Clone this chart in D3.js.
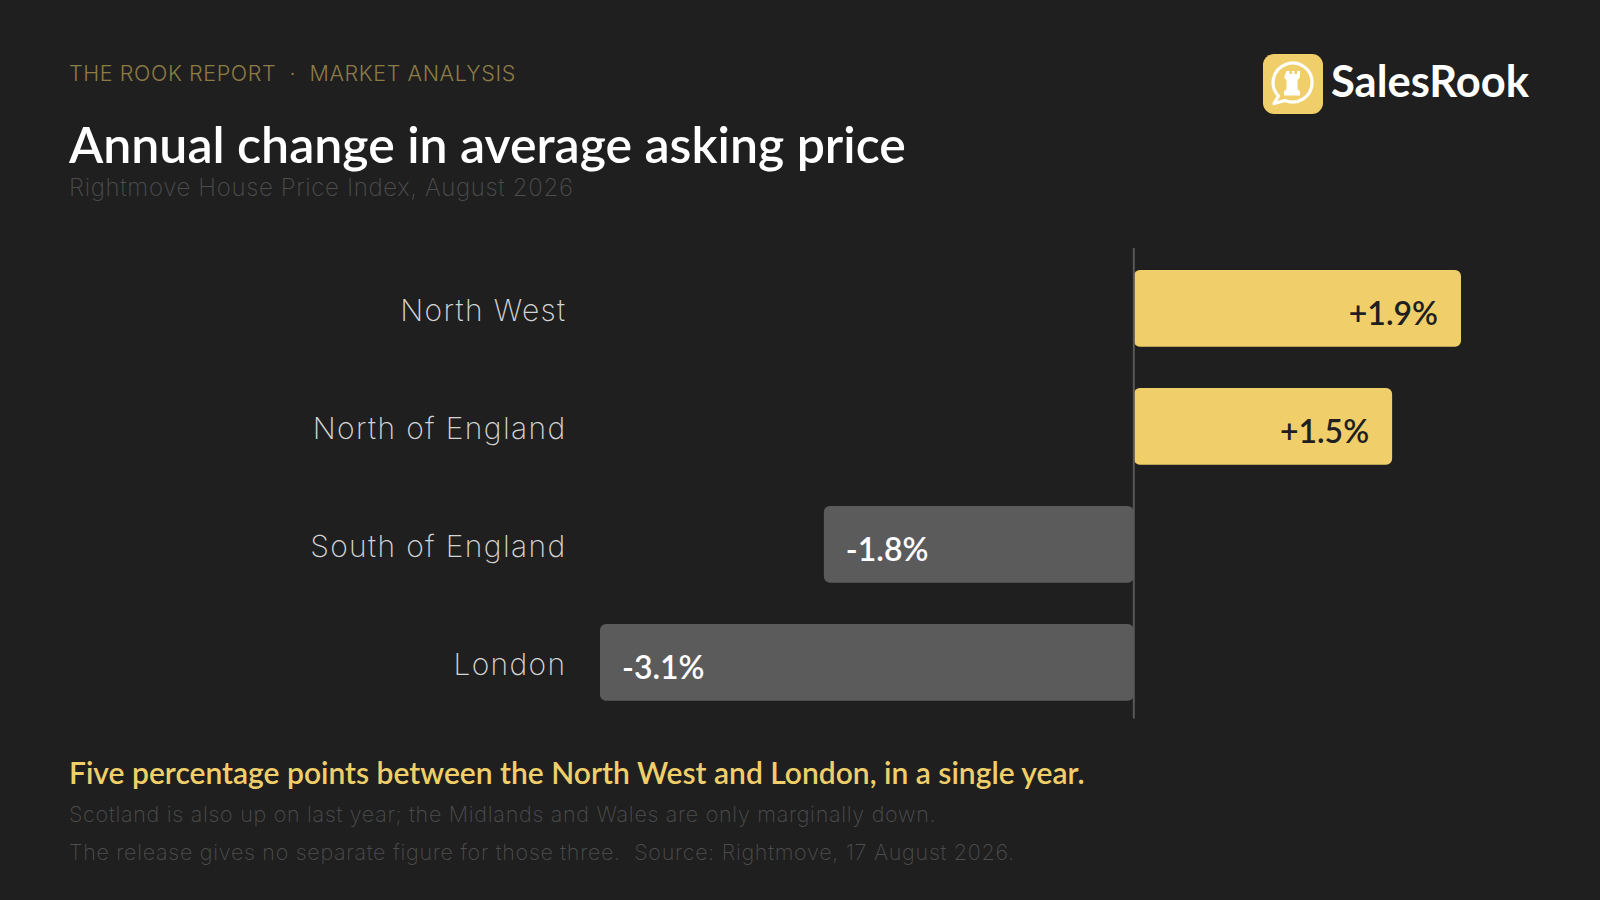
<!DOCTYPE html>
<html>
<head>
<meta charset="utf-8">
<script src="https://cdn.jsdelivr.net/npm/d3@7"></script>
<style>
  html, body { margin: 0; padding: 0; background: #1f1f1f; }
  svg { display: block; }
</style>
</head>
<body>
<svg id="chart" width="1600" height="900"></svg>
<script>
// ---- data ----
const regions = ["North West", "North of England", "South of England", "London"];
const changes = [1.9, 1.5, -1.8, -3.1];
const valueLabels = ["+1.9%", "+1.5%", "-1.8%", "-3.1%"];
const kicker = "THE ROOK REPORT  ·  MARKET ANALYSIS";
const title = "Annual change in average asking price";
const subtitle = "Rightmove House Price Index, August 2026";
const callout = "Five percentage points between the North West and London, in a single year.";
const notes = [
  "Scotland is also up on last year; the Midlands and Wales are only marginally down.",
  "The release gives no separate figure for those three.  Source: Rightmove, 17 August 2026."
];
const brand = "SalesRook";

const svg = d3.select("#chart");
const BG = "#1f1f1f", GOLD = "#f0cf6a", GREY = "#5b5b5b";
const thin = "'Inter', 'Lato', sans-serif";
const bold = "'Lato', 'Noto Sans', sans-serif";

svg.append("rect").attr("width", 1600).attr("height", 900).attr("fill", BG);

// header
svg.append("text").attr("x", 69).attr("y", 81)
  .attr("font-family", thin).attr("font-weight", 300).attr("font-size", 21.5)
  .attr("letter-spacing", 0.6)
  .attr("fill", "#8c7b46").style("white-space", "pre").text(kicker);
svg.append("text").attr("x", 69).attr("y", 163)
  .attr("font-family", bold).attr("font-weight", 600).attr("font-size", 50)
  .attr("fill", "#ffffff").text(title);
svg.append("text").attr("x", 69).attr("y", 196)
  .attr("font-family", thin).attr("font-weight", 200).attr("font-size", 24)
  .attr("letter-spacing", 0.65)
  .attr("fill", "#4d4d4d").text(subtitle);

// logo
const logo = svg.append("g").attr("transform", "translate(1263,54)");
logo.append("rect").attr("width", 60).attr("height", 60).attr("rx", 11).attr("fill", GOLD);
// speech bubble: circle with tail
logo.append("path")
  .attr("d", "M 15.5 42 A 19.5 19.5 0 1 1 22 46.5 L 11 49.5 Z")
  .attr("fill", "none").attr("stroke", "#ffffff").attr("stroke-width", 3.2)
  .attr("stroke-linejoin", "round");
// rook
logo.append("path")
  .attr("d", "M 23.5 16.5 h 3 v 3 h 2.5 v -3 h 2.5 v 3 h 2.5 v -3 h 3 v 6.5 l -2.5 2.5 v 9 l 2.5 2.5 v 4 h -16 v -4 l 2.5 -2.5 v -9 l -2.5 -2.5 Z")
  .attr("transform", "translate(0,0.5)")
  .attr("fill", "#ffffff");
svg.append("text").attr("x", 1331).attr("y", 97)
  .attr("font-family", bold).attr("font-weight", 700).attr("font-size", 43.5)
  .attr("fill", "#ffffff").text(brand);

// scales
const x = d3.scaleLinear().domain([d3.min(changes), d3.max(changes)]).range([600, 1461]);
const y = d3.scaleBand().domain(regions).range([249.3, 721.3]).paddingInner(0.35).paddingOuter(0.175);

const data = regions.map((r, i) => ({ region: r, value: changes[i], label: valueLabels[i] }));

// bars
svg.append("g").selectAll("rect").data(data).join("rect")
  .attr("x", d => x(Math.min(0, d.value)))
  .attr("y", d => y(d.region))
  .attr("width", d => Math.abs(x(d.value) - x(0)))
  .attr("height", y.bandwidth())
  .attr("rx", 6)
  .attr("fill", d => d.value >= 0 ? GOLD : GREY);

// zero axis line
svg.append("line")
  .attr("x1", x(0)).attr("x2", x(0))
  .attr("y1", 248).attr("y2", 718.5)
  .attr("stroke", "#585858").attr("stroke-width", 2);

// category labels
svg.append("g").selectAll("text").data(data).join("text")
  .attr("x", 566.5)
  .attr("y", d => y(d.region) + y.bandwidth() / 2 + 13)
  .attr("text-anchor", "end")
  .attr("font-family", thin).attr("font-weight", 200).attr("font-size", 30)
  .attr("letter-spacing", 1.35)
  .attr("fill", "#d4d4d4")
  .text(d => d.region);

// value labels
svg.append("g").selectAll("text").data(data).join("text")
  .attr("x", d => d.value >= 0 ? x(d.value) - 23 : x(d.value) + 22)
  .attr("y", d => y(d.region) + y.bandwidth() / 2 + 16.5)
  .attr("text-anchor", d => d.value >= 0 ? "end" : "start")
  .attr("font-family", bold).attr("font-weight", 600).attr("font-size", 32)
  .attr("fill", d => d.value >= 0 ? "#1f1f1f" : "#ffffff")
  .text(d => d.label);

// footer
svg.append("text").attr("x", 69).attr("y", 783.5)
  .attr("font-family", bold).attr("font-weight", 600).attr("font-size", 30)
  .attr("fill", GOLD).text(callout);
svg.append("g").selectAll("text").data(notes).join("text")
  .attr("x", 69)
  .attr("y", (d, i) => 822 + i * 37.5)
  .attr("font-family", thin).attr("font-weight", 200).attr("font-size", 21.5)
  .attr("letter-spacing", 0.72)
  .attr("fill", "#4d4d4d")
  .style("white-space", "pre")
  .text(d => d);
</script>
</body>
</html>
